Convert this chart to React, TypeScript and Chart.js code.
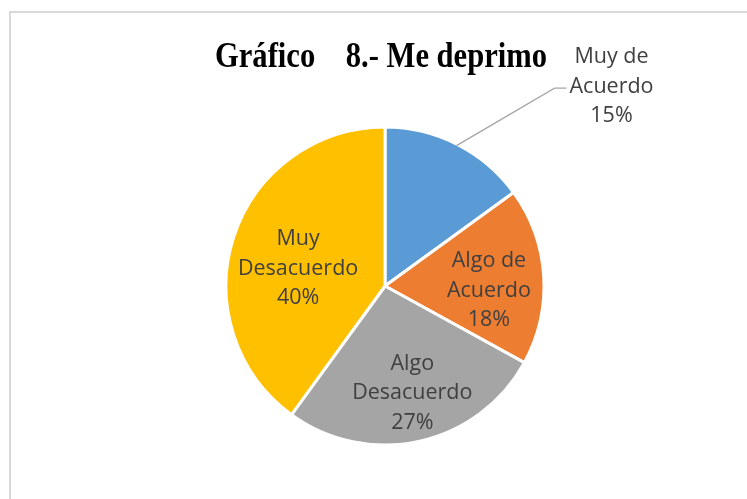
import React, { useEffect, useRef } from "react";
import { Chart, registerables } from "chart.js";

Chart.register(...registerables);

const TITLE = "Gráfico    8.- Me deprimo";
const categories = [
  ["Muy de", "Acuerdo"],
  ["Algo de", "Acuerdo"],
  ["Algo", "Desacuerdo"],
  ["Muy", "Desacuerdo"],
];
const values = [15, 18, 27, 40];
const percentLabels = ["15%", "18%", "27%", "40%"];
const colors = ["#5B9BD5", "#ED7D31", "#A5A5A5", "#FFC000"];

// label placement style: radial factor + angle shift (deg); null => outside with leader
const labelStyle: ({ r: number; a: number } | null)[] = [
  null,
  { r: 0.654, a: 5.3 },
  { r: 0.686, a: -1.9 },
  { r: 0.559, a: -5.9 },
];

const W = 747;
const H = 499;

const decoPlugin = {
  id: "deco",
  beforeDraw(chart: any) {
    const ctx = chart.ctx;
    ctx.save();
    ctx.fillStyle = "#ffffff";
    ctx.fillRect(0, 0, W, H);
    ctx.strokeStyle = "#d9d9d9";
    ctx.lineWidth = 2;
    ctx.strokeRect(10, 12, 900, 700);
    ctx.restore();
  },
  afterDraw(chart: any) {
    const ctx = chart.ctx;
    ctx.save();
    // title
    ctx.font = 'bold 36px "Liberation Serif", "Times New Roman", serif';
    ctx.fillStyle = "#000000";
    ctx.textBaseline = "alphabetic";
    ctx.textAlign = "left";
    const tw = ctx.measureText(TITLE).width;
    const target = 332;
    const sx = target / tw;
    ctx.translate(215, 67);
    ctx.scale(sx, 1);
    ctx.fillText(TITLE, 0, 0);
    ctx.restore();

    const meta = chart.getDatasetMeta(0);
    ctx.save();
    ctx.font = '21.5px "Open Sans", sans-serif';
    ctx.fillStyle = "#404040";
    ctx.textAlign = "center";
    ctx.textBaseline = "alphabetic";
    const lineGap = 29.5;
    meta.data.forEach((arc: any, i: number) => {
      const { x, y, startAngle, endAngle, outerRadius } = arc.getProps(
        ["x", "y", "startAngle", "endAngle", "outerRadius"],
        true
      );
      const mid = (startAngle + endAngle) / 2;
      const lines = [...categories[i], percentLabels[i]];
      const st = labelStyle[i];
      let tx: number, ty: number;
      if (st) {
        const ang = mid + (st.a * Math.PI) / 180;
        tx = x + Math.cos(ang) * outerRadius * st.r;
        ty = y + Math.sin(ang) * outerRadius * st.r;
      } else {
        const ex = x + Math.cos(mid) * (outerRadius - 1.5);
        const ey = y + Math.sin(mid) * (outerRadius - 1.5);
        const elx = ex + 98;
        const ely = ey - 57.5;
        ctx.save();
        ctx.strokeStyle = "#a6a6a6";
        ctx.lineWidth = 1.3;
        ctx.beginPath();
        ctx.moveTo(ex, ey);
        ctx.lineTo(elx, ely);
        ctx.lineTo(elx + 12, ely);
        ctx.stroke();
        ctx.restore();
        tx = elx + 57;
        ty = ely - 3;
      }
      lines.forEach((ln, k) => {
        ctx.fillText(ln, tx, ty + 7.5 + (k - 1) * lineGap);
      });
    });
    ctx.restore();
  },
};

export default function App() {
  const ref = useRef<HTMLCanvasElement | null>(null);
  useEffect(() => {
    if (!ref.current) return;
    const chart = new Chart(ref.current, {
      type: "pie",
      data: {
        labels: categories.map((c) => c.join(" ")),
        datasets: [
          {
            data: values,
            backgroundColor: colors,
            borderColor: "#ffffff",
            borderWidth: 3,
          },
        ],
      },
      options: {
        responsive: false,
        animation: false,
        devicePixelRatio: 1,
        layout: {
          padding: { top: 125.5, bottom: 52.5, left: 224.5, right: 201.5 },
        },
        plugins: {
          legend: { display: false },
          tooltip: { enabled: false },
          title: { display: false },
        },
      },
      plugins: [decoPlugin],
    });
    return () => chart.destroy();
  }, []);
  return (
    <div style={{ position: "fixed", left: 0, top: 0, width: W, height: H, background: "#fff" }}>
      <canvas ref={ref} width={W} height={H} style={{ display: "block", width: W, height: H }} />
    </div>
  );
}
